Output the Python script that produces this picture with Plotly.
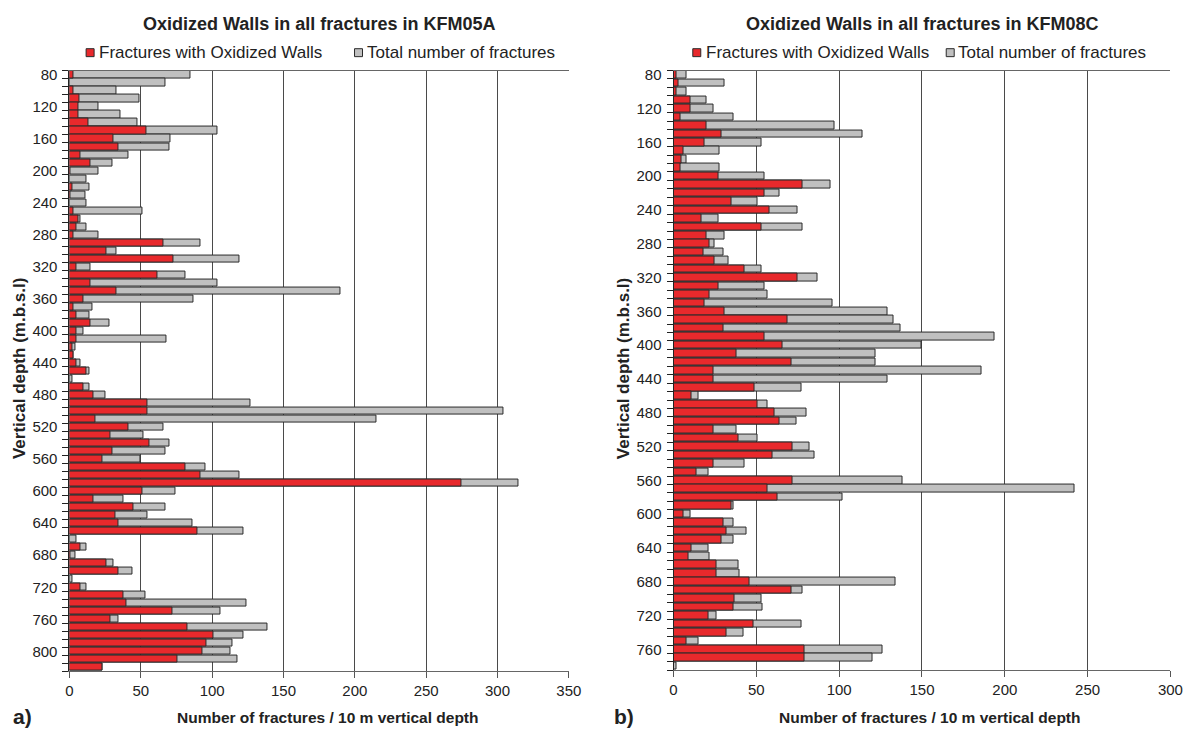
import plotly.graph_objects as go

# ---------------- data ----------------
depth_a = list(range(80, 830, 10))  # KFM05A depth bins (m)
oxid_a = [3, 0, 3, 7, 6, 6, 13, 54, 31, 34, 8, 15, 1, 0, 2, 1, 0, 3, 6, 5, 3, 66, 26, 73,
          5, 62, 15, 33, 10, 3, 5, 15, 5, 5, 2, 3, 5, 12, 0, 10, 17, 55, 55, 18, 41, 29, 56, 30,
          23, 81, 92, 275, 51, 17, 45, 32, 34, 90, 0, 8, 1, 26, 34, 0, 8, 38, 40, 72, 29, 83,
          101, 96, 93, 76, 23]
total_a = [85, 67, 33, 49, 20, 36, 48, 104, 71, 70, 41, 30, 20, 12, 14, 11, 12, 51, 8, 12, 20, 92, 33, 119,
           15, 81, 104, 190, 87, 16, 14, 28, 10, 68, 4, 3, 8, 14, 2, 14, 25, 127, 304, 215, 66, 52, 70, 67,
           50, 95, 119, 315, 74, 38, 67, 55, 86, 122, 5, 12, 4, 31, 44, 2, 12, 53, 124, 106, 34, 139,
           122, 114, 113, 118, 23]

depth_b = list(range(80, 790, 10))  # KFM08C depth bins (m)
oxid_b = [2, 3, 2, 10, 10, 4, 20, 29, 19, 6, 5, 4, 27, 78, 55, 35, 58, 17, 53, 20, 22, 18, 25,
          43, 75, 27, 22, 19, 31, 69, 30, 55, 66, 38, 71, 24, 24, 49, 11, 51, 61, 64, 24, 39, 72,
          60, 24, 14, 72, 57, 63, 35, 6, 30, 32, 29, 11, 9, 26, 26, 46, 71, 37, 36, 21, 48, 32, 8,
          79, 79, 0]
total_b = [8, 31, 8, 20, 24, 36, 97, 114, 53, 28, 8, 28, 55, 95, 64, 51, 75, 27, 78, 31, 25, 30, 33,
           53, 87, 55, 57, 96, 129, 133, 137, 194, 150, 122, 122, 186, 129, 77, 15, 57, 80, 74, 38, 51, 82,
           85, 43, 21, 138, 242, 102, 36, 10, 36, 44, 36, 21, 22, 39, 40, 134, 78, 53, 54, 26, 77, 42, 15,
           126, 120, 2]

ticks_a = [80, 120, 160, 200, 240, 280, 320, 360, 400, 440, 480, 520, 560, 600, 640, 680, 720, 760, 800]
ticks_b = [80, 120, 160, 200, 240, 280, 320, 360, 400, 440, 480, 520, 560, 600, 640, 680, 720, 760]

titles = ["Oxidized Walls in all fractures in KFM05A", "Oxidized Walls in all fractures in KFM08C"]
legend_names = ["Fractures with Oxidized Walls", "Total number of fractures"]
x_title = "Number of fractures / 10 m vertical depth"
y_title = "Vertical depth (m.b.s.l)"

RED = "#E8292C"
GRAY = "#C0C0C0"
EDGE = "#2a2a2a"
FONT = "Liberation Sans, Arial, sans-serif"
W, H = 1200, 731
# small horizontal correction for the observed rendering shrink
S, OFF = 0.988, 2.7


def px(x):
    return ((x - OFF) / S) / W


def py(y):
    return 1 - y / H


fig = go.Figure()
for (dep, ox, tot, xa, ya) in [(depth_a, oxid_a, total_a, "x", "y"), (depth_b, oxid_b, total_b, "x2", "y2")]:
    fig.add_trace(go.Bar(y=dep, x=tot, orientation="h", width=9, xaxis=xa, yaxis=ya,
                         marker=dict(color=GRAY, line=dict(color=EDGE, width=1)),
                         name=legend_names[1], showlegend=False))
    fig.add_trace(go.Bar(y=dep, x=ox, orientation="h", width=9, xaxis=xa, yaxis=ya,
                         marker=dict(color=RED, line=dict(color=EDGE, width=1)),
                         name=legend_names[0], showlegend=False))

xcommon = dict(showgrid=True, gridcolor="#4a4a4a", gridwidth=1, dtick=50, tick0=0,
               ticks="outside", ticklen=6, tickcolor="#555555",
               showline=True, linecolor="#666666", linewidth=1, mirror=True,
               tickfont=dict(family=FONT, size=15, color="#222222"), zeroline=False, fixedrange=True)
ycommon = dict(showgrid=False, ticks="", showline=True, linecolor="#222222", linewidth=1,
               tickfont=dict(family=FONT, size=15, color="#222222"), zeroline=False,
               minor=dict(ticks="outside", ticklen=6, tickcolor="#222222", dtick=10, tick0=75, showgrid=False),
               ticklabelstandoff=8)

fig.update_layout(
    width=W, height=H, margin=dict(l=0, r=0, t=0, b=0),
    paper_bgcolor="white", plot_bgcolor="white", barmode="overlay", bargap=0,
    showlegend=False,
    xaxis=dict(domain=[px(68.3), px(568.8)], range=[0, 350], anchor="y", **xcommon),
    yaxis=dict(domain=[py(671), py(66)], range=[825, 75], anchor="x",
               tickvals=ticks_a, ticktext=[str(t) for t in ticks_a], **ycommon),
    xaxis2=dict(domain=[px(673.7), px(1171.7)], range=[0, 300], anchor="y2", **xcommon),
    yaxis2=dict(domain=[py(670), py(66)], range=[785, 75], anchor="x2",
                tickvals=ticks_b, ticktext=[str(t) for t in ticks_b], **ycommon),
)

ann = []
shapes = []


def text_ann(x, y, text, size, xanchor="center", bold=False, angle=0):
    return dict(x=px(x), y=py(y), xref="paper", yref="paper",
                text=("<b>" + text + "</b>") if bold else text,
                xanchor=xanchor, yanchor="middle", showarrow=False, textangle=angle,
                font=dict(family=FONT, size=size, color="#222222"))


for i, (x0, x1) in enumerate([(68.3, 568.8), (673.7, 1171.7)]):
    cx = (x0 + x1) / 2
    ann.append(text_ann(cx, 19, titles[i], 18, bold=True))
    ann.append(text_ann(cx + 8, 717, x_title, 15.5, bold=True))
    ann.append(text_ann(x0 - 50, 366, y_title, 17, bold=True, angle=-90))
# panel labels
ann.append(text_ann(10, 716, "a)", 21, xanchor="left", bold=True))
ann.append(text_ann(612, 716, "b)", 21, xanchor="left", bold=True))

# legends (manual)
for (rx, gx) in [(85, 354), (693, 947)]:
    shapes.append(dict(type="rect", xref="paper", yref="paper", x0=px(rx), x1=px(rx + 8),
                       y0=py(52), y1=py(44), fillcolor=RED, line=dict(color=EDGE, width=1)))
    ann.append(text_ann(rx + 11, 48, legend_names[0], 17, xanchor="left"))
    shapes.append(dict(type="rect", xref="paper", yref="paper", x0=px(gx), x1=px(gx + 8),
                       y0=py(52), y1=py(44), fillcolor=GRAY, line=dict(color=EDGE, width=1)))
    ann.append(text_ann(gx + 10, 48, legend_names[1], 17, xanchor="left"))

fig.update_layout(annotations=ann, shapes=shapes)
fig.write_html("out.html")
